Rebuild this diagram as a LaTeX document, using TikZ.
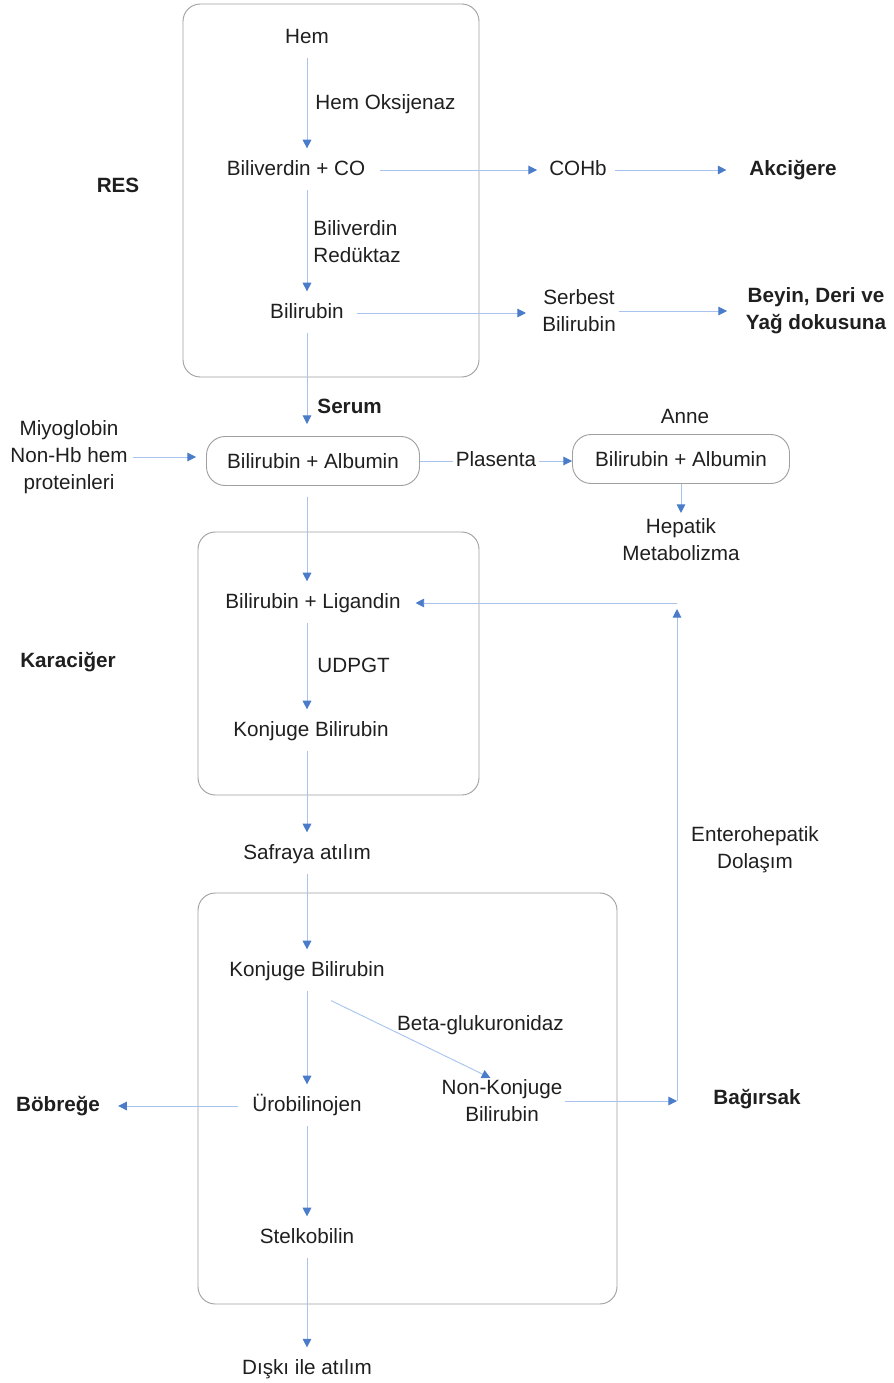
\documentclass[tikz,border=0pt]{standalone}
\usepackage{fontspec}
\setmainfont{Liberation Sans}
\usetikzlibrary{positioning,arrows.meta}

\definecolor{linkblue}{HTML}{A8C4EE}
\definecolor{tipblue}{HTML}{4A7CC9}
\definecolor{framegray}{HTML}{A0A0A0}

\begin{document}
\begin{tikzpicture}[
	on grid,
	every node/.style={text=black!88,font=\fontsize{15.5}{20.25}\selectfont},
	lbl/.style={inner sep=0pt,text height=11pt,text depth=3pt},
	mlbl/.style={inner sep=0pt,align=center},
	hd/.style={lbl,font=\fontsize{15.5}{20.25}\selectfont\bfseries},
	hdm/.style={mlbl,font=\fontsize{15.5}{20.25}\selectfont\bfseries},
	pill/.style={draw=framegray,line width=0.7pt,rounded corners=14pt,minimum width=159.75pt,minimum height=36.75pt,inner sep=0pt},
	frame/.style={draw=framegray,line width=0.7pt,rounded corners=13pt},
	flow/.style={line width=0.7pt,-{Triangle[length=6.5pt,width=6.5pt,color=tipblue]},every edge/.append style={draw=linkblue}},
	down/.style={flow,shorten <=8pt,shorten >=9pt}
	]
	\useasboundingbox (0,0) rectangle (669.75pt,-1037.25pt);
	% frames
	\draw[frame] (137.25pt,-3pt) rectangle (359.25pt,-282.75pt);
	\draw[frame] (148.5pt,-399pt) rectangle (359.25pt,-596.25pt);
	\draw[frame] (148.5pt,-669.75pt) rectangle (462.75pt,-978pt);
	% main column
	\node[lbl] (hem) at (230.25pt,-28.5pt) {Hem};
	\node[lbl,below=99pt of hem,xshift=-8.25pt] (bvco) {Biliverdin + CO};
	\node[lbl,below=107.25pt of bvco,xshift=8.25pt] (bil) {Bilirubin};
	\node[pill,below=111pt of bil,xshift=4.5pt] (bilalb) {Bilirubin + Albumin};
	\node[lbl,below=106.5pt of bilalb] (bilLig) {Bilirubin + Ligandin};
	\node[lbl,below=96pt of bilLig,xshift=-1.5pt] (konj) {Konjuge Bilirubin};
	\node[lbl,below=92.25pt of konj,xshift=-3pt] (safraya) {Safraya atılım};
	\node[lbl,below=87.75pt of safraya] (konj2) {Konjuge Bilirubin};
	\node[lbl,below=101.25pt of konj2] (uro) {Ürobilinojen};
	\node[lbl,below=99pt of uro] (stel) {Stelkobilin};
	\node[lbl,below=98.25pt of stel] (diski) {Dışkı ile atılım};
	% side nodes
	\node[hd,below left=12.75pt and 133.5pt of bvco] (res) {RES};
	\node[lbl,right=211.5pt of bvco] (cohb) {COHb};
	\node[hd,right=161.25pt of cohb] (akc) {Akciğere};
	\node[mlbl,right=204pt of bil,yshift=1.5pt] (serbest) {Serbest\\Bilirubin};
	\node[hdm,right=177.75pt of serbest] (beyin) {Beyin, Deri ve\\Yağ dokusuna};
	\node[mlbl,left=183pt of bilalb,yshift=3pt] (miyo) {Miyoglobin\\Non-Hb hem\\proteinleri};
	\node[pill,minimum width=162.75pt,right=276pt of bilalb,yshift=1.5pt] (mbox) {Bilirubin + Albumin};
	\node[lbl,above=30.75pt of mbox,xshift=3pt] (anne) {Anne};
	\node[mlbl,below=60.5pt of mbox] (hepatik) {Hepatik\\Metabolizma};
	\node[hd,below left=44.25pt and 183.75pt of bilLig] (kc) {Karaciğer};
	\node[mlbl,right=146.25pt of uro,yshift=3.75pt] (nonk) {Non-Konjuge\\Bilirubin};
	\node[hd,right=191.25pt of nonk,yshift=1.5pt] (bag) {Bağırsak};
	\node[hd,left=186.75pt of uro] (bob) {Böbreğe};
	\node[mlbl,right=336pt of safraya,yshift=3pt] (entero) {Enterohepatik\\Dolaşım};
	\coordinate[right=131.25pt of nonk] (ent1);
	\coordinate (ent2) at (ent1 |- bilLig);
	% vertical flow
	\path[down]
	(hem) edge node[lbl,midway,right=6pt] {Hem Oksijenaz} (hem |- bvco.north)
	(hem |- bvco.south) edge node[mlbl,align=left,midway,right=4.5pt] {Biliverdin\\Redüktaz} (hem |- bil.north)
	(hem |- bil.south) edge node[hd,pos=0.75,right=7.5pt] {Serum} (hem |- bilalb.north)
	(hem |- bilalb.south) edge (hem |- bilLig.north)
	(hem |- bilLig.south) edge node[lbl,midway,right=7.5pt] {UDPGT} (hem |- konj.north)
	(hem |- konj.south) edge (hem |- safraya.north)
	(hem |- safraya.south) edge (hem |- konj2.north)
	(hem |- konj2.south) edge (hem |- uro.north)
	(hem |- uro.south) edge (hem |- stel.north)
	(hem |- stel.south) edge (hem |- diski.north);
	% side flow
	\path[flow]
	(bvco.east) edge[shorten <=11pt,shorten >=9pt] (cohb.west)
	(cohb.east) edge[shorten <=6pt,shorten >=17pt] (akc.west)
	(bil.east) edge[shorten <=10pt,shorten >=12pt] (bil.east -| serbest.west)
	(serbest.east) edge[shorten <=2pt,shorten >=14pt] (serbest.east -| beyin.west)
	(miyo.east) edge[shorten <=4pt,shorten >=7.5pt] (miyo.east -| bilalb.west)
	(bilalb.east) edge node[lbl,fill=white,inner xsep=2pt] {Plasenta} (bilalb.east -| mbox.west)
	(mbox.south) edge[shorten >=4pt] (hepatik.north)
	([xshift=18pt,yshift=-15pt]konj2.south) edge[shorten >=3pt] node[lbl,midway,xshift=51pt,yshift=11pt] {Beta-glukuronidaz} ([xshift=-6pt]nonk.north)
	(nonk.east) edge[shorten <=2pt] (ent1)
	(ent1) edge[shorten >=4.5pt] (ent2)
	(ent2) edge[shorten >=11pt] (bilLig.east)
	(uro.west) edge[shorten <=10.5pt,shorten >=13.5pt] (bob.east);
\end{tikzpicture}
\end{document}
